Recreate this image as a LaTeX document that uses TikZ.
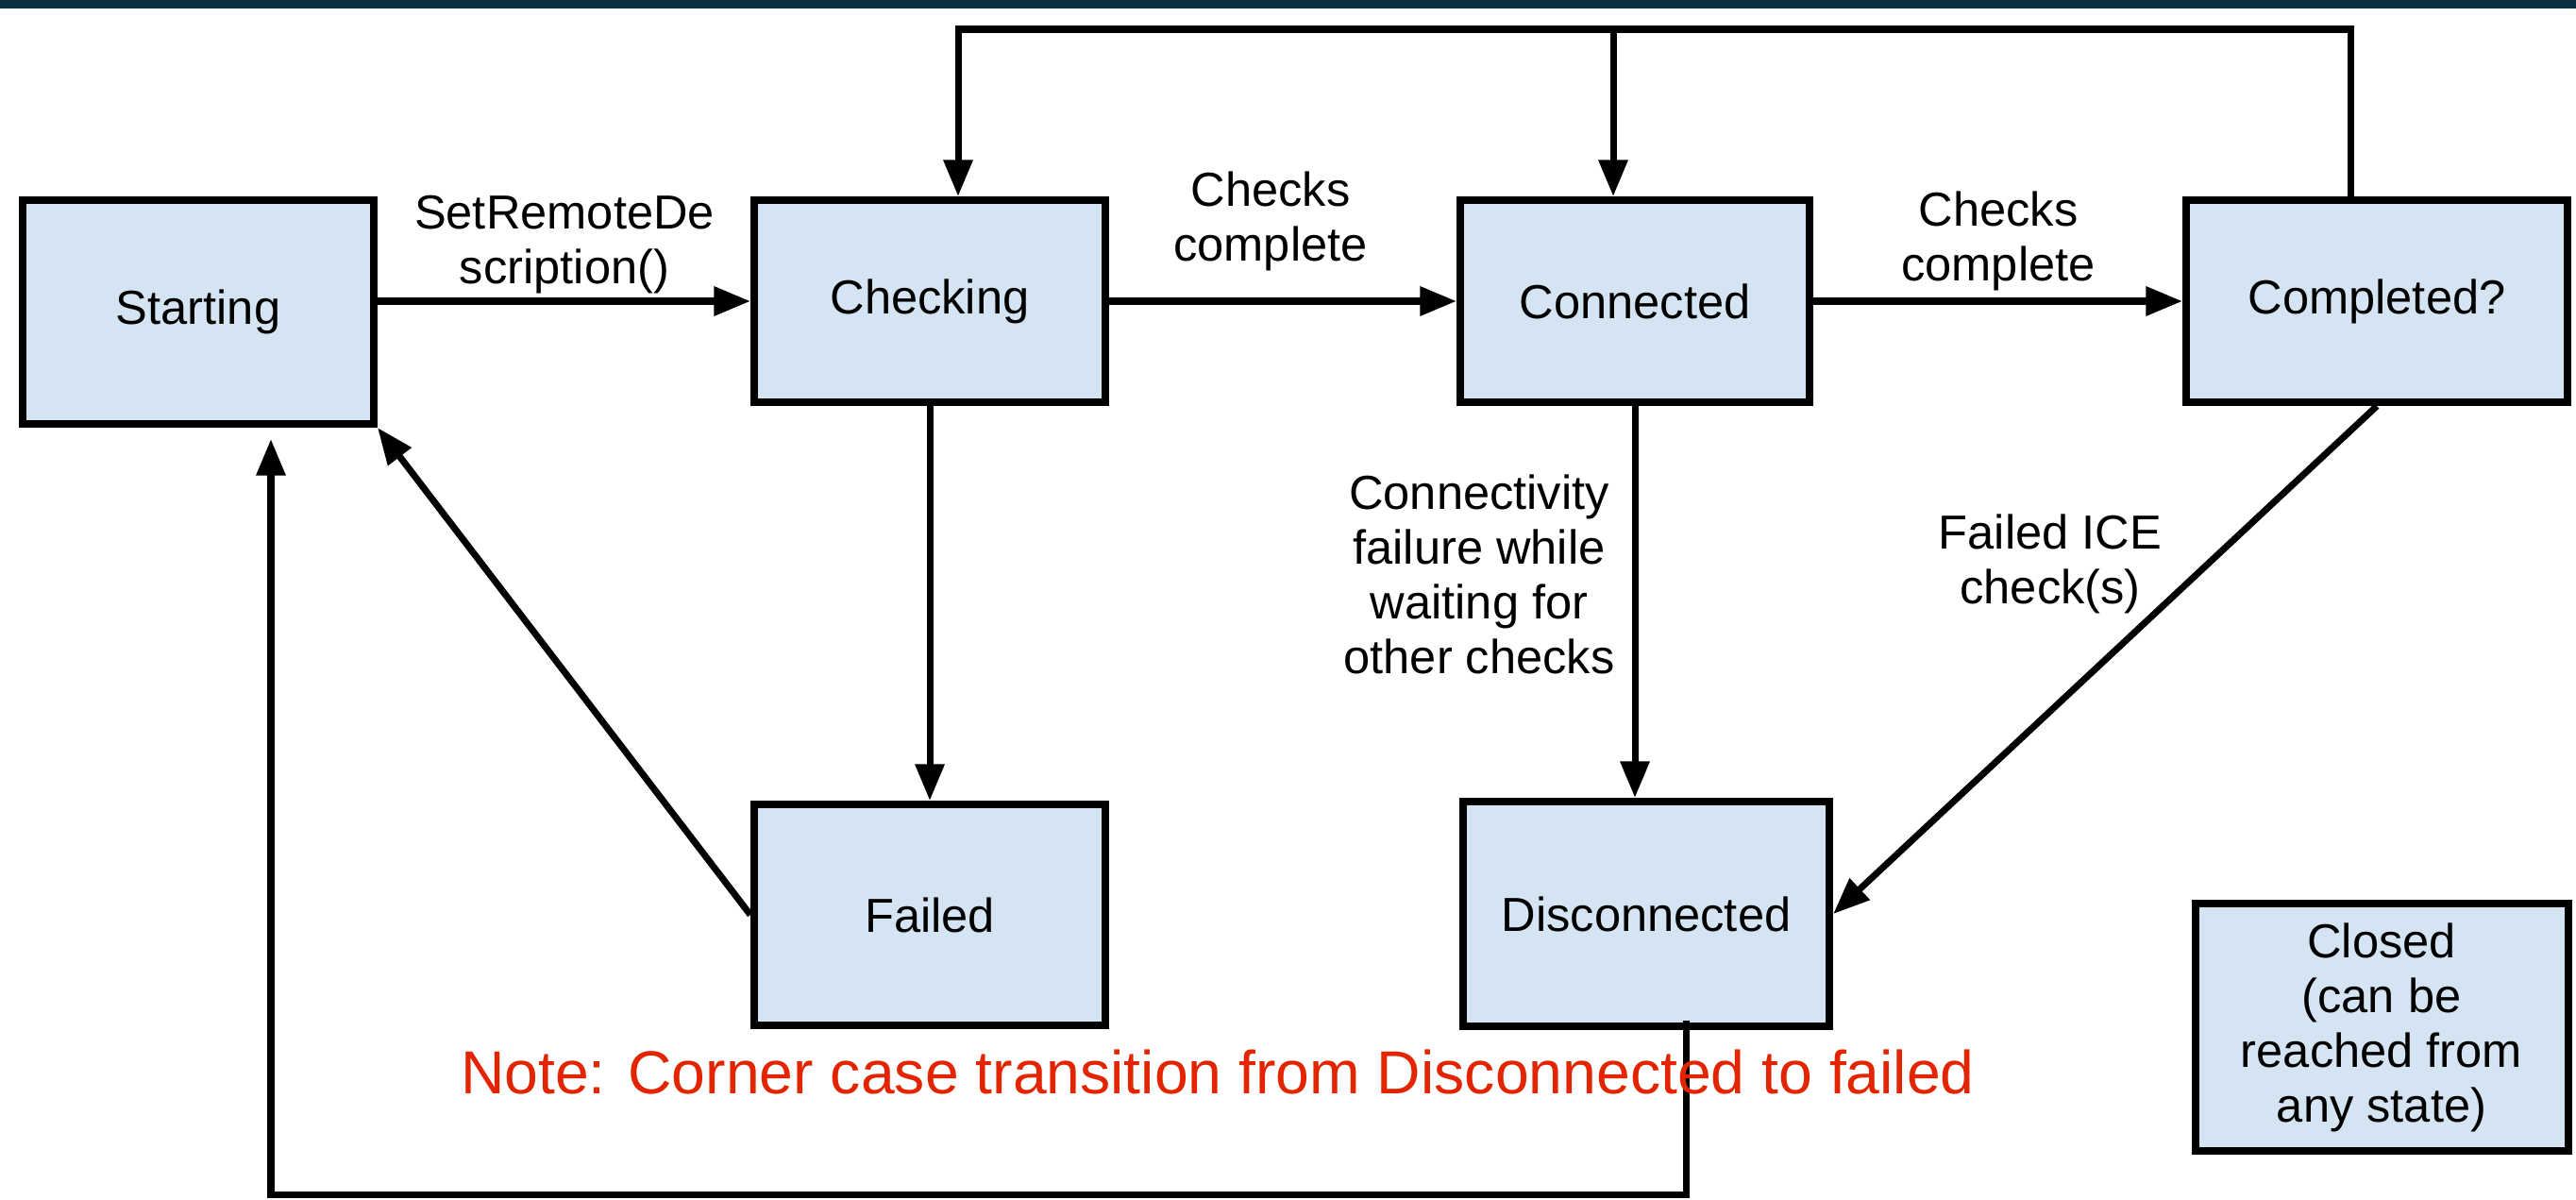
\documentclass[tikz,border=0pt]{standalone}
\usepackage{fontspec}
\setmainfont{Liberation Sans}
\usepackage{tikz}
\usetikzlibrary{arrows.meta,calc,positioning}
\definecolor{statefill}{HTML}{D5E4F2}
\definecolor{notered}{HTML}{E32400}
\definecolor{topbar}{HTML}{0A2F3E}

\begin{document}
\begin{tikzpicture}[
      state/.style={draw, line width=2.3pt, fill=statefill, minimum width=3.72cm, minimum height=2.14cm, align=center, inner sep=0pt},
      lbl/.style={align=center, inner sep=0pt},
      arr/.style={-{Triangle[length=11pt,width=8.5pt]}, line width=2pt},
      font=\fontsize{14.4}{16.5}\selectfont
  ]
    \useasboundingbox (0,0) rectangle (27.29,-12.70);
    \fill[topbar] (0,0) rectangle (27.29,-0.09);

    % states
    \node[state, minimum height=2.37cm] (starting) at (2.10,-3.305) {Starting};
    \node[state] (checking) at (9.85,-3.19) {Checking};
    \node[state, minimum width=3.70cm] (connected) at (17.32,-3.19) {Connected};
    \node[state, minimum width=4.04cm] (completed) at (25.18,-3.19) {Completed?};
    \node[state, minimum height=2.34cm] (failed) at (9.85,-9.69) {Failed};
    \node[state, minimum width=3.88cm, minimum height=2.38cm] (disconnected) at (17.44,-9.68) {Disconnected};
    \node[state, minimum width=3.95cm, minimum height=2.62cm] (closed) at (25.23,-10.88) {Closed\\(can be\\reached from\\any state)};

    \coordinate (top) at (17,-0.31);
    \coordinate (bottom) at (10,-12.65);

    % transitions
    \draw[arr] (starting.east |- checking.west) -- (checking.west);
    \draw[arr] (checking) -- (connected);
    \draw[arr] (connected) -- (completed);
    \draw[arr] (checking) -- (failed);
    \draw[arr] (connected.south) -- (connected.south |- disconnected.north);
    \draw[arr] (completed.south) -- (disconnected.east);
    \draw[arr] (failed.west) -- (starting.south east);
    \draw[arr] ([xshift=-2.8mm]completed.north) |- (top) -| ([xshift=3mm]checking.north);
    \draw[arr] ([xshift=-2.3mm]connected.north |- top) -- ([xshift=-2.3mm]connected.north);
    \draw[arr] ([xshift=4.2mm,yshift=1mm]disconnected.south) |- (bottom) -| ([xshift=7.7mm,yshift=-1.2mm]starting.south);

    % transition labels
    \node[lbl] (setremote) at (5.98,-2.595) {SetRemoteDe\\scription()};
    \node[lbl] (checks1) at (13.46,-2.345) {Checks\\complete};
    \node[lbl] (checks2) at (21.17,-2.55) {Checks\\complete};
    \node[lbl] (connfail) at (15.67,-6.085) {Connectivity\\failure while\\waiting for\\other checks};
    \node[lbl] (icefail) at (21.72,-5.97) {Failed ICE\\check(s)};

    \node[anchor=base, inner sep=0pt, text=notered, font=\fontsize{18.3}{22}\selectfont] (note) at (12.90,-11.58) {Note: Corner case transition from Disconnected to failed};
  \end{tikzpicture}
\end{document}
